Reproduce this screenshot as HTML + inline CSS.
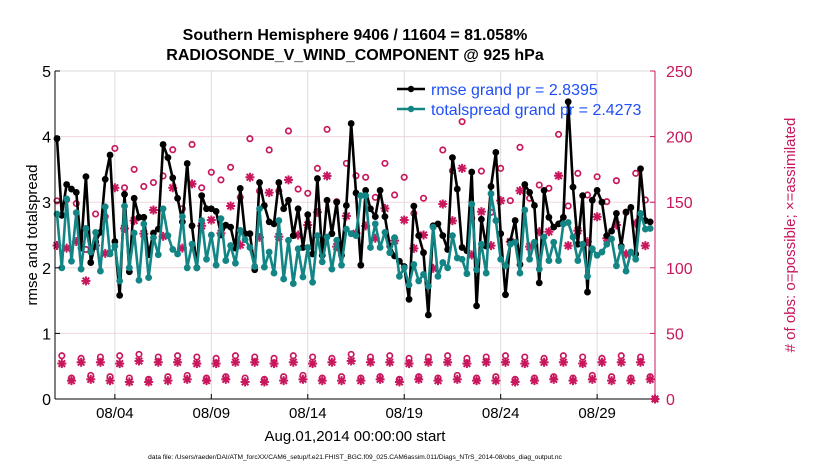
<!DOCTYPE html>
<html><head><meta charset="utf-8">
<style>
body{margin:0;background:#fff;}
svg{display:block;font-family:"Liberation Sans",sans-serif;}
</style></head>
<body>
<svg id="chart" width="830" height="470">
<text x="355" y="40" text-anchor="middle" font-size="16" font-weight="bold">Southern Hemisphere 9406 / 11604 = 81.058%</text>
<text x="355" y="60" text-anchor="middle" font-size="16" font-weight="bold">RADIOSONDE_V_WIND_COMPONENT @ 925 hPa</text>
<g id="grid"></g>
<g id="obs"></g>
<g id="lines"></g>
<g id="axes"></g>
<g>
 <line x1="397" y1="89" x2="425" y2="89" stroke="#000" stroke-width="2.5"/>
 <circle cx="411" cy="89" r="3.2" fill="#000"/>
 <text x="431" y="95" font-size="16" fill="#1f4ff5">rmse grand pr = 2.8395</text>
 <line x1="397" y1="109" x2="425" y2="109" stroke="#138585" stroke-width="2.5"/>
 <circle cx="411" cy="109" r="3.2" fill="#138585"/>
 <text x="431" y="115" font-size="16" fill="#1f4ff5">totalspread grand pr = 2.4273</text>
</g>
<text transform="translate(37,235) rotate(-90)" text-anchor="middle" font-size="15">rmse and totalspread</text>
<text transform="translate(795,235) rotate(-90)" text-anchor="middle" font-size="15" fill="#c8175d"># of obs: o=possible; ×=assimilated</text>
<text x="355" y="441" text-anchor="middle" font-size="15">Aug.01,2014 00:00:00 start</text>
<text x="355" y="459" text-anchor="middle" font-size="6.6">data file: /Users/raeder/DAI/ATM_forcXX/CAM6_setup/f.e21.FHIST_BGC.f09_025.CAM6assim.011/Diags_NTrS_2014-08/obs_diag_output.nc</text>
</svg>
<script>
const rmse=[3.97,2.8,3.27,3.2,3.15,2.3,3.39,2.08,2.4,2.54,3.35,3.72,2.4,1.58,3.12,1.94,3.06,2.77,2.77,2.2,2.53,2.59,3.88,3.68,3.37,3.06,2.7,3.59,2.64,2.0,3.1,2.9,
2.9,2.86,2.5,2.65,2.62,2.3,3.21,2.52,2.52,1.97,3.3,2.95,2.7,2.67,3.3,2.9,3.03,2.49,2.9,2.31,2.81,2.21,3.36,2.19,3.03,2.52,3.0,2.19,2.95,4.2,3.14,2.04,
3.18,2.9,2.78,3.18,2.78,2.33,2.18,2.1,2.02,1.52,2.94,2.49,2.23,1.28,2.64,2.67,2.49,2.28,3.68,3.2,2.31,2.26,3.46,1.42,2.74,2.33,3.24,3.76,2.52,1.59,
2.4,2.72,2.05,3.27,3.15,2.95,1.77,3.18,2.77,2.62,2.67,2.77,4.53,3.23,2.36,3.1,1.63,3.03,3.18,3.0,2.49,2.56,2.83,2.33,2.85,2.92,2.21,3.51,2.72,2.7];
const spread=[2.82,2.0,3.05,2.1,2.84,1.98,2.6,2.24,2.54,1.95,2.93,2.21,2.33,1.8,2.94,2.0,2.53,1.81,2.67,1.85,2.46,2.2,2.9,2.49,2.28,2.21,2.78,2.0,2.36,2.0,2.72,2.13,
2.5,2.04,2.75,2.11,2.34,2.07,2.57,2.43,2.31,2.02,2.9,2.01,2.24,1.92,2.72,1.83,2.42,1.76,2.29,1.86,2.31,1.78,2.49,2.09,2.47,1.98,2.42,2.04,2.59,2.52,2.49,3.1,
3.1,2.31,2.67,2.31,2.54,2.23,2.46,1.87,2.0,1.74,2.05,1.8,1.9,1.72,2.62,1.87,2.08,2.0,2.49,2.15,2.13,1.91,2.97,1.97,2.36,1.92,3.13,2.72,2.13,2.03,
2.36,2.39,1.92,2.88,2.13,2.39,1.98,2.47,2.11,2.39,2.11,2.67,2.69,2.47,2.11,2.36,1.87,2.29,2.19,2.24,2.36,2.44,2.03,2.31,1.95,2.24,2.13,2.83,2.59,2.6];
// 00Z/12Z observation counts (every 12 h)
const possibleMain=[151,152,149,114,141,139,191,161,175,162,165,170,190,145,194,161,
172.8,167,176.6,153.7,198.4,158.5,189.8,158.5,204.3,160,156.8,175.8,205.5,150.4,179.6,170.2,
169,153.7,179.6,155.5,169,141.5,153,131.3,189.8,174,211.4,137.7,173.7,142.3,175.8,
151.2,191.8,153,163.1,160.6,201.7,147.1,172,155.5,169.4,150.4,166.4,142.3,172,151.7,0];
const assimMain=[117,115,120,90,117,111,161,130,136,126,144,124,161,115,164,132,
136.4,126.3,147.1,117.4,169,123.2,157.3,123.7,167,125,132.6,142.3,170,116.1,139.5,126.3,
131.9,122.5,145.3,120.7,136.4,114.8,125,99.6,148.6,135.9,175.8,109.8,142.8,116.9,151.2,
119.9,158.8,116.1,127.5,127.5,170.2,116.9,128.3,119.9,138.9,122.5,132.6,110.5,133.9,116.9,0];
// 06Z/18Z observation counts
const possibleOff=[33,16,31,18,32,17,33,16,34,15,32,17,33,18,32,16,31,17,33,16,32,15,31,17,33,18,32,16,31,17,34,16,32,17,33,15,31,17,32,16,33,18,31,16,32,17,33,15,32,16,31,17,33,16,32,18,31,17,33,16,32,17];
const assimOff=[27,14,28,15,28,14,27,13,29,13,28,14,28,15,27,14,27,15,28,13,28,13,27,14,28,15,27,14,28,14,29,14,28,15,28,13,27,15,28,14,28,15,27,14,28,14,28,13,27,14,28,15,28,14,27,15,28,14,28,14,28,15];
const xTickDays=[3,8,13,18,23,28];
const xTickLabels=['08/04','08/09','08/14','08/19','08/24','08/29'];
const yTicks=[0,1,2,3,4,5];
const y2Ticks=[0,50,100,150,200,250];

const NS='http://www.w3.org/2000/svg';
const X0=57,X1=655,Y0=399,Y1=71,CR='#c8175d',TEAL='#138585';
const xs=d=>X0+(d/31)*(X1-X0);
const ys=v=>Y0-(v/5)*(Y0-Y1);
const ys2=v=>Y0-(v/250)*(Y0-Y1);
function mk(tag,attrs,parent){const e=document.createElementNS(NS,tag);for(const k in attrs)e.setAttribute(k,attrs[k]);parent.appendChild(e);return e;}
const grid=document.getElementById('grid'),axes=document.getElementById('axes'),obs=document.getElementById('obs'),lines=document.getElementById('lines');
const GX=55;
yTicks.forEach(t=>{if(t>0){const l=mk('line',{x1:GX,x2:X1,y1:ys(t),y2:ys(t),stroke:t==5?'#d9d9d9':'#f0d5df','stroke-width':1},grid);

}});
xTickDays.forEach(d=>{const l=mk('line',{x1:xs(d),x2:xs(d),y1:Y1,y2:Y0,stroke:'#dcdcdc','stroke-width':1},grid);

});
mk('line',{x1:GX,x2:GX,y1:Y1,y2:Y0,stroke:'#000','stroke-width':1},axes);
mk('line',{x1:GX,x2:X1,y1:Y0,y2:Y0,stroke:'#000','stroke-width':1},axes);
mk('line',{x1:X1,x2:X1,y1:Y1,y2:Y0,stroke:CR,'stroke-width':1},axes);
yTicks.forEach(t=>{mk('line',{x1:GX,x2:GX+5,y1:ys(t),y2:ys(t),stroke:'#000'},axes);
const tx=mk('text',{x:GX-4,y:ys(t)+6,'text-anchor':'end','font-size':16},axes);tx.textContent=t;

});
y2Ticks.forEach(t=>{mk('line',{x1:X1-5,x2:X1,y1:ys2(t),y2:ys2(t),stroke:CR},axes);
const tx=mk('text',{x:X1+11,y:ys2(t)+6,'font-size':16,fill:CR},axes);tx.textContent=t;

});
xTickDays.forEach((d,i)=>{mk('line',{x1:xs(d),x2:xs(d),y1:Y0,y2:Y0-5,stroke:'#000'},axes);
const tx=mk('text',{x:xs(d),y:418,'text-anchor':'middle','font-size':15},axes);tx.textContent=xTickLabels[i];

});
function circ(x,y){const c=mk('circle',{cx:x,cy:y,r:2.7,fill:'none',stroke:CR,'stroke-width':1.7},obs);

}
function star(x,y){const g=mk('g',{stroke:CR,'stroke-width':2},obs);


mk('line',{x1:x-4.5,x2:x+4.5,y1:y,y2:y},g);mk('line',{x1:x,x2:x,y1:y-4.5,y2:y+4.5},g);
mk('line',{x1:x-3.3,x2:x+3.3,y1:y-3.3,y2:y+3.3},g);mk('line',{x1:x-3.3,x2:x+3.3,y1:y+3.3,y2:y-3.3},g);}
possibleMain.forEach((v,k)=>{const d=k*0.5;circ(xs(d),ys2(v));star(xs(d),ys2(assimMain[k]));});
possibleOff.forEach((v,k)=>{const d=0.25+k*0.5;circ(xs(d),ys2(v));star(xs(d),ys2(assimOff[k]));});
function series(arr,col,name){
 const p=arr.map((v,i)=>xs(i*0.25).toFixed(1)+','+ys(v).toFixed(1)).join(' ');
 const pl=mk('polyline',{points:p,fill:'none',stroke:col,'stroke-width':2.6,'stroke-linejoin':'round'},lines);
 
 
 arr.forEach((v,i)=>{const c=mk('circle',{cx:xs(i*0.25),cy:ys(v),r:3.4,fill:col},lines);
 
 });
}
series(rmse,'#000','rmse');
series(spread,TEAL,'totalspread');
</script>
</body></html>
